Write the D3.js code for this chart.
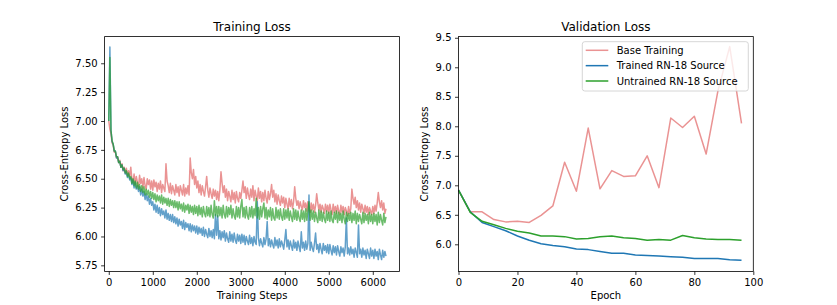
<!DOCTYPE html>
<html><head><meta charset="utf-8">
<script src="https://cdn.jsdelivr.net/npm/d3@7"></script>
<style>
body{margin:0;background:#fff}
svg{display:block;font-family:"DejaVu Sans",sans-serif}
</style>
</head><body>
<svg id="c" width="837" height="305"></svg>
<script>
// ---------- DATA ----------
// Training loss, sampled every 25 steps (step = index * stepInterval)
const stepInterval = 25;
const trainBase = [
7.00,6.93,6.89,6.81,6.79,6.73,6.73,6.68,6.69,6.64,6.66,6.60,6.63,6.57,6.60,6.55,6.59,6.53,6.57,6.52,
6.60,6.50,6.47,6.54,6.45,6.52,6.47,6.43,6.53,6.46,6.50,6.42,6.51,6.44,6.41,6.50,6.45,6.49,6.41,6.48,
6.40,6.49,6.43,6.47,6.39,6.46,6.41,6.48,6.38,6.45,6.42,6.39,6.63,6.48,6.44,6.38,6.46,6.37,6.44,6.40,
6.36,6.45,6.38,6.43,6.35,6.44,6.40,6.36,6.45,6.35,6.42,6.37,6.44,6.36,6.68,6.55,6.50,6.58,6.45,6.52,
6.42,6.48,6.38,6.45,6.36,6.44,6.39,6.35,6.43,6.52,6.40,6.34,6.42,6.37,6.33,6.41,6.35,6.40,6.32,6.39,
6.31,6.40,6.56,6.46,6.38,6.44,6.34,6.41,6.31,6.39,6.35,6.30,6.40,6.32,6.38,6.29,6.39,6.33,6.30,6.38,
6.33,6.40,6.48,6.38,6.43,6.33,6.42,6.36,6.32,6.41,6.34,6.44,6.31,6.40,6.35,6.31,6.42,6.33,6.39,6.30,
6.38,6.31,6.40,6.33,6.29,6.39,6.32,6.37,6.45,6.34,6.40,6.30,6.37,6.28,6.36,6.31,6.27,6.35,6.29,6.34,
6.25,6.33,6.28,6.24,6.33,6.26,6.32,6.24,6.30,6.43,6.33,6.27,6.31,6.24,6.30,6.26,6.23,6.31,6.25,6.29,
6.22,6.30,6.25,6.21,6.29,6.23,6.28,6.21,6.27,6.37,6.29,6.23,6.28,6.21,6.27,6.24,6.20,6.28,6.22,6.27,
6.20,6.28,6.23,6.19,6.28,6.21,6.26,6.20,6.27,6.22,6.19,6.27,6.21,6.26,6.19,6.25,6.22,6.18,6.26,6.20,
6.24,6.41,6.33,6.28,6.34,6.25,6.31,6.23,6.29,6.21,6.28,6.24,6.20,6.27,6.21,6.26,6.19,6.25,6.22,6.19,
6.26,6.20,6.27,6.22,6.29,6.38,6.30,6.25,6.31,6.23,6.29,6.20,6.24];
const trainTrained = [
7.00,7.64,6.92,6.82,6.80,6.74,6.74,6.68,6.69,6.64,6.65,6.60,6.62,6.57,6.59,6.54,6.56,6.51,6.54,6.49,
6.51,6.45,6.49,6.42,6.47,6.41,6.44,6.39,6.43,6.36,6.41,6.35,6.39,6.32,6.37,6.31,6.35,6.28,6.33,6.27,
6.30,6.23,6.28,6.21,6.27,6.20,6.25,6.18,6.24,6.19,6.22,6.16,6.23,6.15,6.20,6.14,6.19,6.13,6.19,6.12,
6.17,6.11,6.16,6.09,6.15,6.10,6.13,6.07,6.14,6.06,6.12,6.08,6.11,6.05,6.11,6.04,6.10,6.05,6.09,6.03,
6.09,6.02,6.08,6.03,6.07,6.01,6.08,6.00,6.06,6.02,5.99,6.07,6.00,6.05,5.99,6.06,5.98,6.19,6.01,6.18,
5.98,6.05,5.97,6.04,5.99,6.05,5.96,6.03,5.98,5.95,6.04,5.96,6.02,5.95,6.03,5.97,5.94,6.02,5.96,6.01,
5.94,6.02,5.95,6.01,5.93,6.00,5.96,5.93,6.01,5.94,5.99,5.92,6.00,5.95,5.93,6.30,5.99,5.92,5.98,5.94,
5.91,5.99,5.93,5.98,6.13,5.92,5.98,5.91,5.97,5.93,5.90,5.99,5.92,5.97,5.90,5.98,5.91,5.96,5.93,5.89,
5.97,6.06,5.91,5.97,5.89,5.96,5.92,5.88,5.97,5.90,5.95,5.88,5.96,5.91,5.87,6.04,5.90,5.95,5.88,5.96,
5.89,5.94,6.36,5.88,5.95,5.90,5.87,5.94,6.03,5.89,5.93,5.86,5.94,5.89,5.85,5.94,5.88,5.92,5.86,5.93,
5.85,5.93,5.88,5.84,5.92,5.86,5.91,5.84,5.92,5.87,5.83,5.91,5.86,5.90,5.83,5.91,6.16,5.85,5.90,5.84,
5.91,5.85,5.89,5.82,5.90,5.86,5.82,6.10,5.85,5.89,5.82,5.90,5.84,5.88,5.81,5.89,5.85,5.81,5.90,5.83,
5.88,5.81,5.89,5.83,5.87,5.80,5.89,5.84,5.80,5.88,5.82,5.87,5.83];
const trainUntrained = [
7.00,7.55,6.92,6.83,6.80,6.74,6.74,6.69,6.69,6.64,6.65,6.60,6.62,6.58,6.59,6.55,6.57,6.52,6.55,6.50,
6.52,6.46,6.50,6.44,6.48,6.42,6.47,6.41,6.45,6.39,6.44,6.38,6.43,6.36,6.41,6.36,6.40,6.34,6.39,6.33,
6.38,6.32,6.37,6.30,6.36,6.31,6.35,6.29,6.36,6.28,6.34,6.29,6.33,6.27,6.33,6.26,6.32,6.27,6.31,6.25,
6.31,6.25,6.30,6.23,6.30,6.24,6.28,6.22,6.29,6.21,6.27,6.23,6.28,6.20,6.27,6.21,6.26,6.19,6.27,6.20,
6.26,6.18,6.27,6.19,6.25,6.17,6.26,6.20,6.17,6.26,6.18,6.25,6.17,6.27,6.19,6.16,6.31,6.18,6.26,6.17,
6.26,6.18,6.25,6.16,6.27,6.19,6.16,6.26,6.17,6.25,6.19,6.27,6.16,6.24,6.18,6.15,6.26,6.17,6.25,6.16,
6.26,6.32,6.17,6.25,6.16,6.26,6.18,6.15,6.25,6.17,6.26,6.16,6.24,6.18,6.33,6.16,6.25,6.15,6.26,6.17,
6.24,6.29,6.16,6.25,6.15,6.23,6.17,6.25,6.14,6.24,6.16,6.14,6.25,6.16,6.23,6.15,6.24,6.17,6.14,6.24,
6.15,6.23,6.16,6.24,6.14,6.22,6.17,6.13,6.24,6.15,6.23,6.14,6.22,6.16,6.13,6.23,6.15,6.22,6.13,6.24,
6.14,6.22,6.30,6.14,6.23,6.15,6.22,6.13,6.21,6.16,6.12,6.23,6.14,6.22,6.13,6.21,6.15,6.12,6.22,6.14,
6.21,6.13,6.22,6.14,6.12,6.21,6.15,6.22,6.12,6.21,6.14,6.20,6.12,6.22,6.15,6.11,6.21,6.13,6.20,6.14,
6.21,6.12,6.20,6.14,6.22,6.11,6.20,6.13,6.19,6.15,6.11,6.21,6.12,6.20,6.14,6.19,6.11,6.21,6.13,6.19,
6.11,6.20,6.13,6.19,6.10,6.21,6.12,6.19,6.14,6.10,6.20,6.12,6.17];

// Validation loss per epoch
const epochs = [0,4,8,12,16,20,24,28,32,36,40,44,48,52,56,60,64,68,72,76,80,84,88,92,96];
const valBase = [6.92,6.55,6.55,6.42,6.38,6.39,6.37,6.49,6.65,7.39,6.90,7.97,6.94,7.25,7.15,7.16,7.50,6.96,8.14,7.98,8.17,7.53,8.60,9.35,8.05];
const valTrained = [6.92,6.55,6.37,6.30,6.23,6.14,6.07,6.01,5.98,5.96,5.92,5.91,5.88,5.85,5.85,5.82,5.81,5.80,5.79,5.78,5.76,5.76,5.76,5.74,5.73];
const valUntrained = [6.92,6.54,6.39,6.33,6.27,6.22,6.19,6.14,6.14,6.13,6.09,6.10,6.13,6.14,6.11,6.10,6.07,6.08,6.07,6.15,6.11,6.09,6.08,6.08,6.07];

const seriesNames = ["Base Training","Trained RN-18 Source","Untrained RN-18 Source"];
const xTicksTrain = [0,1000,2000,3000,4000,5000,6000];
const yTicksTrain = [5.75,6.00,6.25,6.50,6.75,7.00,7.25,7.50];
const xTicksVal = [0,20,40,60,80,100];
const yTicksVal = [6.0,6.5,7.0,7.5,8.0,8.5,9.0,9.5];

// ---------- STYLE ----------
const colors = ["#d62728","#1f77b4","#2ca02c"];
const svg = d3.select("#c");
const axTop = 36.6, axBottom = 271.45;

function panel(opt){
  const x = d3.scaleLinear().domain(opt.xDomain).range([opt.x0, opt.x1]);
  const y = d3.scaleLinear().domain(opt.yDomain).range([axBottom, axTop]);
  const g = svg.append("g");
  const cid = "clip"+opt.id;
  svg.append("defs").append("clipPath").attr("id",cid)
    .append("rect").attr("x",opt.x0).attr("y",axTop).attr("width",opt.x1-opt.x0).attr("height",axBottom-axTop);
  const plot = g.append("g").attr("clip-path","url(#"+cid+")");
  opt.series.forEach((s,i)=>{
    const line = d3.line().x(d=>x(d[0])).y(d=>y(d[1]));
    plot.append("path").datum(s.xs.map((xv,k)=>[xv,s.ys[k]]))
      .attr("d",line).attr("fill","none")
      .attr("stroke",colors[i]).attr("stroke-opacity",s.alpha)
      .attr("stroke-width",1.5).attr("stroke-linejoin","round").attr("stroke-linecap","butt");
  });
  const xa = g.append("g").attr("transform","translate(0,"+axBottom+")")
    .call(d3.axisBottom(x).tickValues(opt.xTicks).tickSize(3.5).tickPadding(3.5).tickFormat(d3.format("d")));
  const ya = g.append("g").attr("transform","translate("+opt.x0+",0)")
    .call(d3.axisLeft(y).tickValues(opt.yTicks).tickSize(3.5).tickPadding(3.5).tickFormat(d3.format(opt.yFmt)));
  [xa,ya].forEach(a=>{
    a.select(".domain").remove();
    a.attr("font-family","DejaVu Sans").attr("font-size",10);
    a.selectAll("line").attr("stroke","#000").attr("stroke-width",0.8);
    a.selectAll("text").attr("fill","#000");
  });
  g.append("rect").attr("x",opt.x0).attr("y",axTop).attr("width",opt.x1-opt.x0).attr("height",axBottom-axTop)
    .attr("fill","none").attr("stroke","#000").attr("stroke-width",0.8);
  g.append("text").attr("x",(opt.x0+opt.x1)/2).attr("y",30.6).attr("text-anchor","middle")
    .attr("font-size",12).text(opt.title);
  g.append("text").attr("x",(opt.x0+opt.x1)/2).attr("y",299).attr("text-anchor","middle")
    .attr("font-size",10).text(opt.xlabel);
  g.append("text").attr("transform","translate("+opt.ylx+","+((axTop+axBottom)/2)+") rotate(-90)")
    .attr("text-anchor","middle").attr("font-size",10).text("Cross-Entropy Loss");
  return {x,y,g};
}

const trainSteps = trainBase.map((_,i)=>i*stepInterval);

panel({id:1, x0:104.6, x1:399.5, xDomain:[-95,6607], yDomain:[5.697,7.731],
  xTicks:xTicksTrain, yTicks:yTicksTrain, yFmt:".2f",
  title:"Training Loss", xlabel:"Training Steps", ylx:68,
  series:[
    {xs:trainSteps, ys:trainBase, alpha:0.5},
    {xs:trainSteps, ys:trainTrained, alpha:0.7},
    {xs:trainSteps, ys:trainUntrained, alpha:0.7}
  ]});

const p2 = panel({id:2, x0:458.5, x1:753.3, xDomain:[0,100], yDomain:[5.54,9.52],
  xTicks:xTicksVal, yTicks:yTicksVal, yFmt:".1f",
  title:"Validation Loss", xlabel:"Epoch", ylx:428,
  series:[
    {xs:epochs, ys:valBase, alpha:0.5},
    {xs:epochs, ys:valTrained, alpha:1},
    {xs:epochs, ys:valUntrained, alpha:1}
  ]});

// legend
const lg = p2.g.append("g");
lg.append("rect").attr("x",582.3).attr("y",41.7).attr("width",166).attr("height",49.3)
  .attr("rx",2.5).attr("fill","#fff").attr("fill-opacity",0.8).attr("stroke","#cccccc").attr("stroke-width",0.8);
const alphas=[0.5,1,1];
seriesNames.forEach((n,i)=>{
  const yy = 50.3 + i*15.35;
  lg.append("line").attr("x1",585.7).attr("x2",608.3).attr("y1",yy).attr("y2",yy)
    .attr("stroke",colors[i]).attr("stroke-opacity",alphas[i]).attr("stroke-width",1.5);
  lg.append("text").attr("x",616.7).attr("y",yy).attr("dy","0.35em").attr("font-size",10).text(n);
});
</script>
</body></html>
